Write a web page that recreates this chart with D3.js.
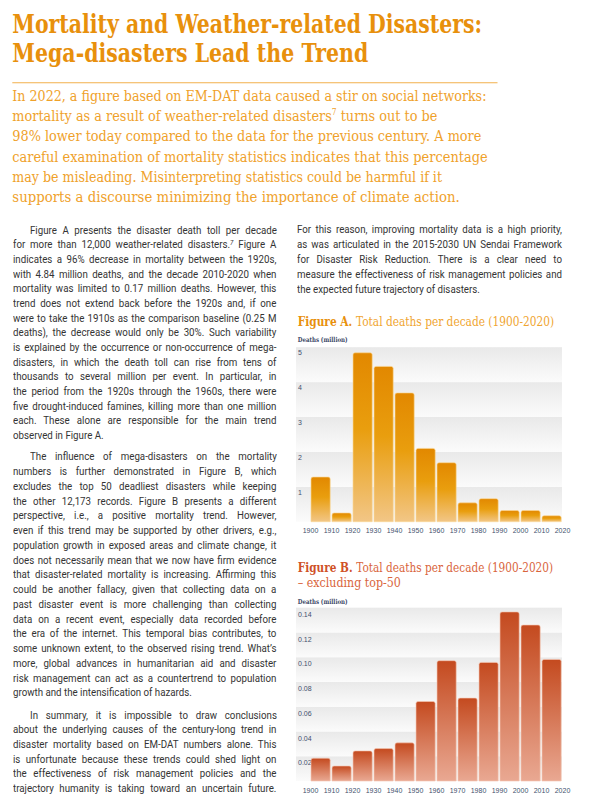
<!DOCTYPE html>
<html><head><meta charset="utf-8">
<script src="https://cdn.jsdelivr.net/npm/d3@7"></script>
<style>
html,body{margin:0;padding:0;background:#fff;}
body{width:590px;height:811px;position:relative;overflow:hidden;}
svg{position:absolute;left:0;top:0;}
.ln{position:absolute;white-space:nowrap;font-family:Roboto,"Open Sans",sans-serif;font-size:10.5px;line-height:14px;color:#343434;transform-origin:0 0;}
.ln .sup{font-size:6.5px;position:relative;top:-3.5px;font-style:italic;}
</style></head><body>
<script>
// ---------------- DATA ----------------
const decades = [1900,1910,1920,1930,1940,1950,1960,1970,1980,1990,2000,2010];
const tickYears = [1900,1910,1920,1930,1940,1950,1960,1970,1980,1990,2000,2010,2020];
const totalDeaths = [1.28,0.25,4.84,4.45,3.69,2.10,1.69,0.54,0.66,0.32,0.32,0.17];          // million
const deathsExclTop50 = [0.0184,0.0121,0.0243,0.0262,0.0308,0.0642,0.0972,0.067,0.0958,0.1366,0.126,0.0982]; // million
const ticksA = [1,2,3,4,5];
const ticksB = [0.02,0.04,0.06,0.08,0.10,0.12,0.14];

const titleLines = ["Mortality and Weather-related Disasters:", "Mega-disasters Lead the Trend"];
const introLines = [
 "In 2022, a figure based on EM-DAT data caused a stir on social networks:",
 "mortality as a result of weather-related disasters{7} turns out to be",
 "98% lower today compared to the data for the previous century. A more",
 "careful examination of mortality statistics indicates that this percentage",
 "may be misleading. Misinterpreting statistics could be harmful if it",
 "supports a discourse minimizing the importance of climate action."
];
const para1 = [
 "Figure A presents the disaster death toll per decade",
 "for more than 12,000 weather-related disasters.{7} Figure A",
 "indicates a 96% decrease in mortality between the 1920s,",
 "with 4.84 million deaths, and the decade 2010-2020 when",
 "mortality was limited to 0.17 million deaths. However, this",
 "trend does not extend back before the 1920s and, if one",
 "were to take the 1910s as the comparison baseline (0.25 M",
 "deaths), the decrease would only be 30%. Such variability",
 "is explained by the occurrence or non-occurrence of mega-",
 "disasters, in which the death toll can rise from tens of",
 "thousands to several million per event. In particular, in",
 "the period from the 1920s through the 1960s, there were",
 "five drought-induced famines, killing more than one million",
 "each. These alone are responsible for the main trend",
 "observed in Figure A."
];
const para2 = [
 "The influence of mega-disasters on the mortality",
 "numbers is further demonstrated in Figure B, which",
 "excludes the top 50 deadliest disasters while keeping",
 "the other 12,173 records. Figure B presents a different",
 "perspective, i.e., a positive mortality trend. However,",
 "even if this trend may be supported by other drivers, e.g.,",
 "population growth in exposed areas and climate change, it",
 "does not necessarily mean that we now have firm evidence",
 "that disaster-related mortality is increasing. Affirming this",
 "could be another fallacy, given that collecting data on a",
 "past disaster event is more challenging than collecting",
 "data on a recent event, especially data recorded before",
 "the era of the internet. This temporal bias contributes, to",
 "some unknown extent, to the observed rising trend. What’s",
 "more, global advances in humanitarian aid and disaster",
 "risk management can act as a countertrend to population",
 "growth and the intensification of hazards."
];
const para3 = [
 "In summary, it is impossible to draw conclusions",
 "about the underlying causes of the century-long trend in",
 "disaster mortality based on EM-DAT numbers alone. This",
 "is unfortunate because these trends could shed light on",
 "the effectiveness of risk management policies and the",
 "trajectory humanity is taking toward an uncertain future."
];
const para4 = [
 "For this reason, improving mortality data is a high priority,",
 "as was articulated in the 2015-2030 UN Sendai Framework",
 "for Disaster Risk Reduction. There is a clear need to",
 "measure the effectiveness of risk management policies and",
 "the expected future trajectory of disasters."
];

// ---------------- LAYOUT ----------------
const W = 590, H = 811;
const svg = d3.select('body').append('svg').attr('width', W).attr('height', H);
const defs = svg.append('defs');
function vgrad(id, stops) {
  const g = defs.append('linearGradient').attr('id', id)
    .attr('x1', 0).attr('y1', 0).attr('x2', 0).attr('y2', 1);
  stops.forEach(s => g.append('stop').attr('offset', s[0]).attr('stop-color', s[1]));
}
vgrad('band', [[0, '#E9E9E9'], [1, '#FBFBFB']]);
vgrad('barA', [[0, '#E28800'], [0.45, '#E99E0E'], [1, '#F2C686']]);
vgrad('barB', [[0, '#C44A1F'], [1, '#E9A892']]);

// append text fitted to a target width by horizontal scaling (real geometry)
function fitted(x, y, target, attrs, build) {
  const t = svg.append('text').attr('x', 0).attr('y', 0);
  Object.entries(attrs).forEach(([k, v]) => t.attr(k, v));
  build(t);
  const w = t.node().getComputedTextLength();
  t.attr('transform', `translate(${x},${y}) scale(${target / w},1)`);
  return t;
}
function supText(sel, str, supSize) {
  const parts = str.split(/\{(\d+)\}/);
  parts.forEach((p, i) => {
    if (!p) return;
    if (i % 2 === 1) sel.append('tspan').attr('font-size', supSize).attr('dy', -6).text(p)
      .call(() => {});
    else {
      const ts = sel.append('tspan').text(p);
      if (i > 0) ts.attr('dy', 6);
    }
  });
}

// Title
const titleY = [33.3, 62.3], titleLen = [470, 356];
titleLines.forEach((t, i) => {
  fitted(12.3, titleY[i], titleLen[i], {'font-family': '"DejaVu Serif", serif', 'font-weight': 'bold',
    'font-size': 26.5, fill: '#E8900C'}, s => s.text(t));
});
svg.append('line').attr('x1', 12.3).attr('x2', 497.5).attr('y1', 82.7).attr('y2', 82.7)
  .attr('stroke', '#F2B04C').attr('stroke-width', 1.1);

// Intro
const introLen = [474.4, 425.4, 469.4, 476, 430.4, 447.7];
introLines.forEach((t, i) => {
  fitted(12.3, 100.7 + i * 20.35, introLen[i], {'font-family': '"DejaVu Serif", serif', 'font-size': 15.5,
    fill: '#EFA12A'}, s => supText(s, t, 9));
});

// Body text (HTML lines, justified via word-spacing)
const body = d3.select('body');
const blocks = [
  {lines: para1, x: 13.3, w: 263.4, indent: 16.5, top: 230.7, lh: 14.66, last: false},
  {lines: para2, x: 13.3, w: 263.4, indent: 16.5, top: 457.3, lh: 14.75, last: false},
  {lines: para3, x: 13.3, w: 263.4, indent: 16.5, top: 715.7, lh: 14.66, last: true},
  {lines: para4, x: 296.7, w: 265, indent: 0, top: 230, lh: 14.9, last: false}
];
const items = [];
blocks.forEach(b => {
  b.lines.forEach((t, i) => {
    const html = t.replace(/\{(\d+)\}/g, '<span class="sup">$1</span>');
    const ind = i === 0 ? b.indent : 0;
    const div = body.append('div').attr('class', 'ln')
      .style('left', (b.x + ind) + 'px').style('top', (b.top + i * b.lh - 7) + 'px').html(html);
    const isLast = i === b.lines.length - 1;
    items.push({div, target: b.w - ind, natural: div.node().getBoundingClientRect().width,
      justify: !isLast || b.last, spaces: (t.match(/ /g) || []).length});
  });
});
const lastTargets = [95, 188.4, 169];
const lastItems = items.filter(d => !d.justify);
const s = d3.sum(lastTargets) / d3.sum(lastItems, d => d.natural);
items.forEach(d => {
  if (d.justify && d.spaces > 0) d.div.style('word-spacing', ((d.target / s - d.natural) / d.spaces) + 'px');
  d.div.style('transform', `scaleX(${s})`);
});

// Figure captions
function caption(y, bold, rest, len, c1, c2) {
  fitted(297.7, y, len, {'font-family': '"DejaVu Serif", serif', 'font-size': 12.5}, t => {
    if (bold) t.append('tspan').attr('font-weight', 'bold').attr('fill', c1).text(bold + ' ');
    t.append('tspan').attr('fill', c2).text(rest);
  });
}
caption(325.5, 'Figure A.', 'Total deaths per decade (1900-2020)', 256.6, '#E8900C', '#F0A530');
caption(571.7, 'Figure B.', 'Total deaths per decade (1900-2020)', 255.6, '#CF5128', '#D9653C');
caption(586.5, null, '– excluding top-50', 103.3, null, '#D9653C');

function unitLabel(y) {
  fitted(297.7, y, 50, {'font-family': '"DejaVu Serif", serif', 'font-weight': 'bold', 'font-size': 6.8,
    fill: '#404a68'}, t => t.text('Deaths (million)'));
}
unitLabel(342);
unitLabel(603.8);

// Charts
function chart(cfg) {
  const x = d3.scaleLinear().domain([1900, 2020]).range([cfg.x0, cfg.x1]);
  const y = d3.scaleLinear().domain([0, cfg.max]).range([cfg.yb, cfg.yt]);
  const g = svg.append('g');
  const lower = [0, ...cfg.ticks.slice(0, -1)];
  g.selectAll('rect.band').data(cfg.ticks).join('rect').attr('class', 'band')
    .attr('x', cfg.bgx).attr('width', cfg.x1 - cfg.bgx)
    .attr('y', d => y(d)).attr('height', (d, i) => y(lower[i]) - y(d)).attr('fill', 'url(#band)');
  const yg = g.append('g').attr('transform', `translate(${cfg.bgx + 2},0)`)
    .call(d3.axisRight(y).tickValues(cfg.ticks).tickSize(0).tickPadding(0).tickFormat(cfg.fmt));
  yg.select('.domain').remove();
  yg.selectAll('text').attr('x', 0).attr('y', cfg.labDy).attr('dy', '0.32em')
    .attr('font-family', '"Liberation Sans", Arial, sans-serif').attr('font-size', 7).attr('fill', '#44506e');
  const xg = g.append('g').attr('transform', `translate(0,${cfg.xLabY})`)
    .call(d3.axisBottom(x).tickValues(tickYears).tickSize(0).tickPadding(0).tickFormat(d3.format('d')));
  xg.select('.domain').remove();
  xg.selectAll('text').attr('y', 0).attr('dy', '0.32em')
    .attr('font-family', '"Liberation Sans", Arial, sans-serif').attr('font-size', 7).attr('fill', '#44506e');
  const r = 2;
  g.selectAll('path.bar').data(decades.map((d, i) => ({d, v: cfg.values[i]}))).join('path').attr('class', 'bar')
    .attr('d', o => {
      const x0 = x(o.d) + 1, x1 = x(o.d + 10) - 0.8, yt = y(o.v), yb = y(0);
      return `M${x0},${yb}V${yt + r}Q${x0},${yt} ${x0 + r},${yt}H${x1 - r}Q${x1},${yt} ${x1},${yt + r}V${yb}Z`;
    })
    .attr('fill', cfg.fill).attr('stroke', cfg.stroke).attr('stroke-width', 0.8);
}
chart({values: totalDeaths, max: 5, ticks: ticksA, fmt: d3.format('d'), x0: 310, x1: 562, bgx: 296,
  yt: 347.2, yb: 521.7, labDy: 5.5, xLabY: 531, fill: 'url(#barA)', stroke: 'rgba(250,215,150,0.8)'});
chart({values: deathsExclTop50, max: 0.14, ticks: ticksB, fmt: d3.format('.2f'), x0: 310, x1: 562, bgx: 296,
  yt: 607.7, yb: 781, labDy: 6.5, xLabY: 790.7, fill: 'url(#barB)', stroke: 'rgba(245,200,180,0.8)'});
</script>
</body></html>
